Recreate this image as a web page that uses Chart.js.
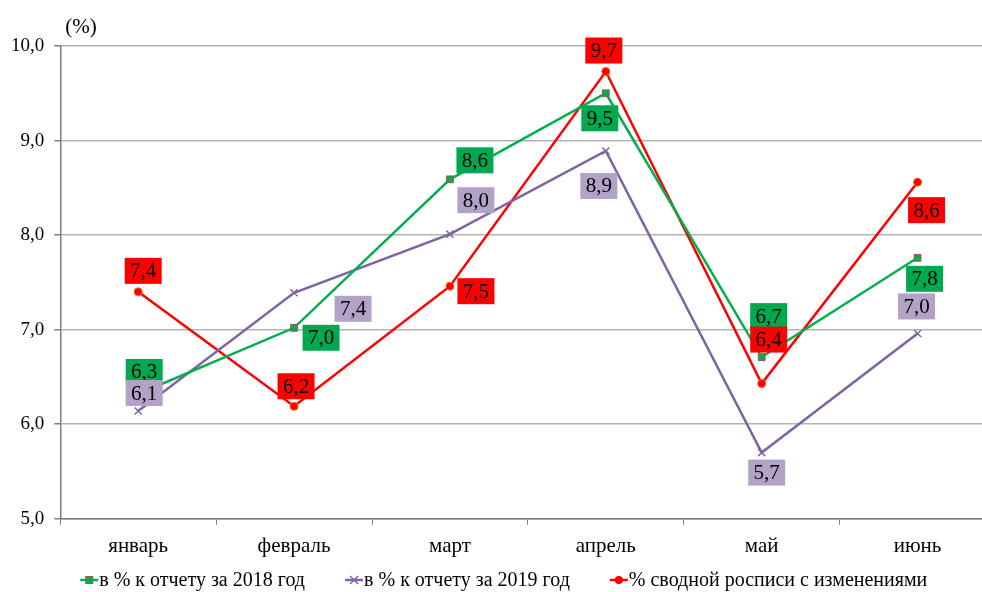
<!DOCTYPE html>
<html>
<head>
<meta charset="utf-8">
<script src="https://cdn.jsdelivr.net/npm/chart.js@4.4.1/dist/chart.umd.min.js"></script>
<style>
    html, body { margin: 0; padding: 0; background: #fff; overflow: hidden; }
    #wrap { width: 1002px; height: 592px; position: relative; }
</style>
</head>
<body>
<div id="wrap"><canvas id="chart"></canvas></div>
<script>
// Months (categories)
const months = ["январь", "февраль", "март", "апрель", "май", "июнь"];

// Series values
const vs2018 = [6.32, 7.02, 8.59, 9.50, 6.71, 7.76];
const vs2019 = [6.14, 7.39, 8.01, 8.89, 5.70, 6.96];
const vsBudget = [7.40, 6.19, 7.46, 9.73, 6.43, 8.56];

// Y-axis range
const yMin = 5;
const yMax = 10;
const yStep = 1;

const seriesNames = [
    "в % к отчету за 2018 год",
    "в % к отчету за 2019 год",
    "% сводной росписи с изменениями"
];

// Label offsets from each point (px), as placed in the original
const labelOffsets = [
    [[6, -22], [27, 10], [25, -19], [-6, 25], [7, -41], [7, 21]],
    [[6, -18], [59, 16], [26, -34], [-7, 35], [5, 20], [-1, -27]],
    [[5, -21], [2, -20], [26, 5], [-2, -21], [7, -44], [9, 28]]
];

const GREEN = "#00B050";
const PURPLE = "#8064A2";
const RED = "#FF0000";
const labelFills = ["#00A84F", "#B3A2C7", "#FF0000"];
const serif = "'Liberation Serif', 'Times New Roman', serif";

const fmt = v => v.toFixed(1).replace(".", ",");

// line + marker swatch, same as in the legend of the original
function drawSwatch(g, x, y, color, marker) {
    g.save();
    g.strokeStyle = color;
    g.lineWidth = 2.5;
    g.beginPath(); g.moveTo(x, y); g.lineTo(x + 18, y); g.stroke();
    if (marker === "square") {
        g.fillStyle = color;
        g.fillRect(x + 5.5, y - 3.5, 7, 7);
        g.strokeStyle = "#9b5a4a"; g.lineWidth = 1;
        g.strokeRect(x + 5.5, y - 3.5, 7, 7);
    } else if (marker === "cross") {
        g.lineWidth = 1.5;
        g.beginPath();
        g.moveTo(x + 5, y - 4); g.lineTo(x + 13, y + 4);
        g.moveTo(x + 13, y - 4); g.lineTo(x + 5, y + 4);
        g.stroke();
    } else {
        g.fillStyle = color;
        g.beginPath(); g.arc(x + 9, y, 4, 0, Math.PI * 2); g.fill();
    }
    g.restore();
}

const markers = ["square", "cross", "circle"];

// boxed value labels, "(%)" caption and the bottom legend
const extras = {
    id: "extras",
    afterDatasetsDraw(chart) {
        const ctx = chart.ctx;
        const area = chart.chartArea;
        ctx.save();
        ctx.font = "21px " + serif;
        ctx.textAlign = "center";
        ctx.textBaseline = "middle";
        chart.data.datasets.forEach((ds, di) => {
            const meta = chart.getDatasetMeta(di);
            meta.data.forEach((pt, i) => {
                const [dx, dy] = labelOffsets[di][i];
                const cx = pt.x + dx;
                const cy = pt.y + dy;
                const w = 37, h = 26;
                ctx.fillStyle = labelFills[di];
                ctx.fillRect(cx - w / 2, cy - h / 2, w, h);
                ctx.fillStyle = "#000";
                ctx.fillText(fmt(ds.data[i]), cx, cy + 1);
            });
        });

        ctx.textAlign = "left";
        ctx.fillText("(%)", area.left + 5, area.top - 19);

        // legend
        ctx.font = "20px " + serif;
        let x = area.left + 20;
        const y = 580;
        chart.data.datasets.forEach((ds, di) => {
            drawSwatch(ctx, x, y, ds.borderColor, markers[di]);
            ctx.fillStyle = "#000";
            ctx.fillText(ds.label, x + 19, y + 1);
            x += 19 + ctx.measureText(ds.label).width + 40;
        });
        ctx.restore();
    }
};

new Chart(document.getElementById("chart"), {
    type: "line",
    data: {
        labels: months,
        datasets: [
            {
                label: seriesNames[0],
                data: vs2018,
                borderColor: GREEN,
                backgroundColor: GREEN,
                borderWidth: 2.5,
                pointStyle: "rect",
                pointRadius: 4.8,
                pointBorderColor: "#9b5a4a",
                pointBorderWidth: 1,
                tension: 0
            },
            {
                label: seriesNames[1],
                data: vs2019,
                borderColor: PURPLE,
                backgroundColor: PURPLE,
                borderWidth: 2.5,
                pointStyle: "crossRot",
                pointRadius: 5,
                pointBorderWidth: 1.5,
                tension: 0
            },
            {
                label: seriesNames[2],
                data: vsBudget,
                borderColor: RED,
                backgroundColor: RED,
                borderWidth: 2.5,
                pointStyle: "circle",
                pointRadius: 4,
                pointBorderColor: "#f06020",
                pointBorderWidth: 1,
                tension: 0
            }
        ]
    },
    options: {
        responsive: true,
        maintainAspectRatio: false,
        animation: false,
        layout: {
            padding: { top: 46, left: 1, right: 4, bottom: 24 }
        },
        plugins: {
            legend: { display: false },
            tooltip: { enabled: false }
        },
        scales: {
            x: {
                offset: true,
                grid: {
                    display: true,
                    offset: true,
                    drawOnChartArea: false,
                    drawTicks: true,
                    tickLength: 6,
                    color: "#7f7f7f"
                },
                border: { color: "#7f7f7f", width: 1.5 },
                ticks: {
                    color: "#000",
                    padding: 9,
                    font: { family: serif, size: 21 }
                }
            },
            y: {
                min: yMin,
                max: yMax,
                ticks: {
                    stepSize: yStep,
                    color: "#000",
                    padding: 10,
                    font: { family: serif, size: 19 },
                    callback: v => fmt(v)
                },
                grid: {
                    color: "#b3b3b3",
                    lineWidth: 1.5,
                    tickLength: 6,
                    tickColor: "#7f7f7f"
                },
                border: { color: "#7f7f7f", width: 1.5 }
            }
        }
    },
    plugins: [extras]
});
</script>
</body>
</html>
